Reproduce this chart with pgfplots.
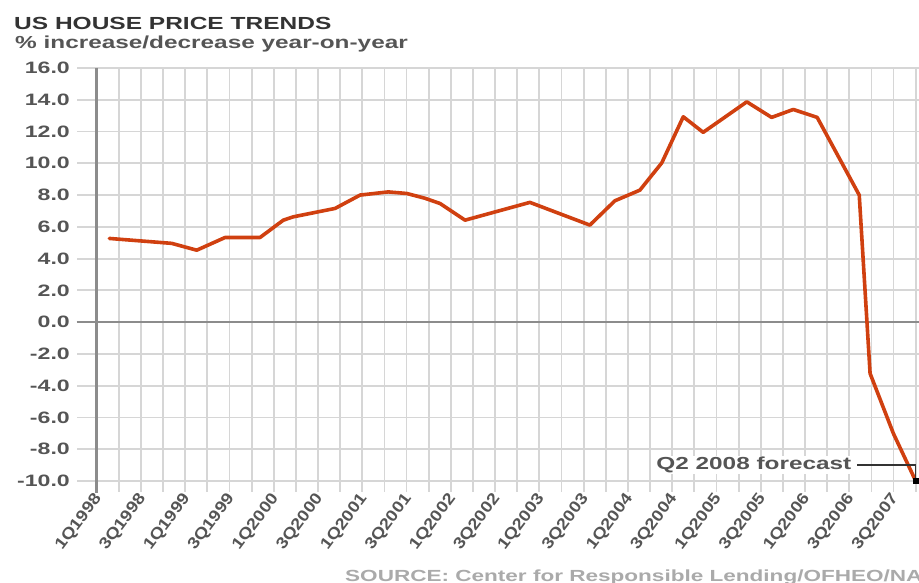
\documentclass[border=0pt]{standalone}
\usepackage{fontspec}
\setmainfont{Liberation Sans}[FakeStretch=1.4]
\newfontfamily\xlab{Liberation Sans}[FakeStretch=1.15]
\usepackage{pgfplots}
\pgfplotsset{compat=1.18}
\definecolor{lineor}{RGB}{208,64,16}
\definecolor{gridc}{RGB}{214,214,214}
\definecolor{axisc}{RGB}{140,140,140}
\definecolor{txt}{RGB}{85,85,85}
\definecolor{ttl}{RGB}{51,51,51}
\definecolor{src}{RGB}{170,170,170}
\begin{document}
\begin{tikzpicture}
\path[use as bounding box] (0,0) rectangle (919pt,582pt);
\node[anchor=base west, inner sep=0pt, font=\fontsize{17.5}{20}\selectfont\bfseries, text=ttl] at (14pt,552pt) {US HOUSE PRICE TRENDS};
\node[anchor=base west, inner sep=0pt, font=\fontsize{17.4}{20}\selectfont\bfseries, text=txt] at (15pt,533.7pt) {\% increase/decrease year-on-year};
\node[anchor=base west, inner sep=0pt, font=\fontsize{16.1}{18}\selectfont\bfseries, text=src] at (345pt,0.8pt) {SOURCE: Center for Responsible Lending/OFHEO/NAR};
\begin{axis}[
  at={(96.7pt,101pt)}, anchor=south west,
  scale only axis, width=822.3pt, height=413pt,
  xmin=0, xmax=37.15, ymin=-10, ymax=16,
  axis line style={draw=none},
  major tick length=0pt, minor tick length=0pt,
  xtick={0,2,...,36},
  minor xtick={1,3,...,37},
  xticklabels={1Q1998,3Q1998,1Q1999,3Q1999,1Q2000,3Q2000,1Q2001,3Q2001,1Q2002,3Q2002,1Q2003,3Q2003,1Q2004,3Q2004,1Q2005,3Q2005,1Q2006,3Q2006,3Q2007},
  ytick={-10,-8,...,16},
  yticklabels={-10.0,-8.0,-6.0,-4.0,-2.0,0.0,2.0,4.0,6.0,8.0,10.0,12.0,14.0,16.0},
  grid=both,
  major grid style={gridc, line width=1.8pt},
  minor grid style={gridc, line width=1.8pt},
  xticklabel style={font=\xlab\bfseries\fontsize{16}{18}\selectfont, text=txt, anchor=east, inner sep=0pt, yshift=-15pt, xshift=2pt, rotate=53},
  yticklabel style={font=\bfseries\fontsize{16.5}{18}\selectfont, text=txt, anchor=east, inner sep=0pt, xshift=-26.7pt},
  clip=false,
]
\pgfplotsinvokeforeach{0,...,37}{\draw[gridc, line width=1.8pt] (axis cs:#1,-10) -- ++(0pt,-11pt);}
\pgfplotsinvokeforeach{-10,-8,...,16}{\draw[gridc, line width=1.8pt] (axis cs:0,#1) -- ++(-20pt,0pt);}
\draw[axisc, line width=2.6pt] ([xshift=-20pt]axis cs:0,0) -- (axis cs:37.15,0);
\draw[axisc, line width=3pt] (axis cs:0,16) -- (axis cs:0,-10) -- ++(0pt,-12pt);
\addplot[lineor, line width=3.6pt, line join=round, line cap=round] coordinates {
(0.57,5.27) (3.39,4.96) (4.52,4.53) (5.80,5.33) (7.38,5.33) (8.43,6.42) (8.88,6.63)
(10.77,7.16) (11.9,8.0) (13.17,8.2) (14.01,8.1) (14.83,7.8) (15.51,7.47) (16.64,6.42)
(19.57,7.54) (22.28,6.11) (23.41,7.64) (24.54,8.31) (25.53,10.03) (26.50,12.93)
(27.40,11.95) (29.37,13.87) (30.49,12.89) (31.47,13.39) (32.55,12.89) (34.45,8.0)
(34.94,-3.23) (35.99,-7.0) (37,-10)
};
\draw[ttl, line width=1.5pt] (axis cs:34.35,-9) -- (axis cs:37,-9) -- (axis cs:37,-10);
\node[anchor=east, inner sep=1pt, fill=white, text=txt, font=\bfseries\fontsize{17.4}{20}\selectfont] at (axis cs:34.15,-9) {Q2 2008 forecast};
\addplot[only marks, mark=square*, mark size=2.6pt, black] coordinates {(37,-10)};
\end{axis}
\end{tikzpicture}
\end{document}
